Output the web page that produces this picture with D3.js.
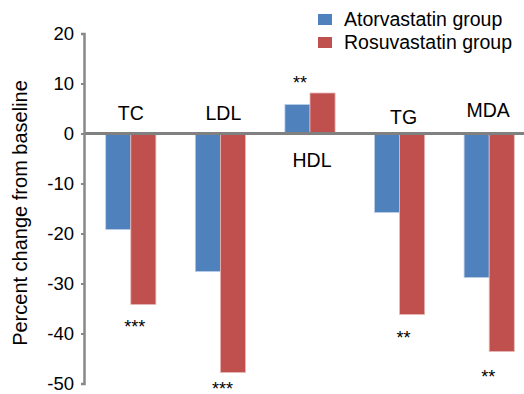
<!DOCTYPE html>
<html>
<head>
<meta charset="utf-8">
<script src="https://cdn.jsdelivr.net/npm/d3@7"></script>
<style>
	body { margin: 0; background: #fff; }
	text { font-family: 'Liberation Sans', Arial, sans-serif; fill: #000; }
</style>
</head>
<body>
<div id="chart"></div>
<script>
const categories = ['TC', 'LDL', 'HDL', 'TG', 'MDA']
const seriesNames = ['Atorvastatin group', 'Rosuvastatin group']
const atorvastatin = [-19.2, -27.6, 5.8, -15.8, -28.8]
const rosuvastatin = [-34.2, -47.8, 8.1, -36.2, -43.6]
const stars = ['***', '***', '**', '**', '**']
const yTicks = [20, 10, 0, -10, -20, -30, -40, -50]

const width = 524
const height = 394
const colors = ['#4F81BD', '#C0504D']
const fontSize = '19.5px'

const svg = d3
	.select('#chart')
	.append('svg')
	.attr('width', width)
	.attr('height', height)

const y = d3.scaleLinear().domain([-50, 20]).range([383.5, 33.5])

const x = d3
	.scaleBand()
	.domain(categories)
	.range([86, 534])
	.paddingInner(0.44)
	.paddingOuter(0.22)

const xSub = d3
	.scaleBand()
	.domain(seriesNames)
	.range([0, x.bandwidth()])

const rows = categories.map((c, i) => ({
	cat: c,
	values: [atorvastatin[i], rosuvastatin[i]],
	star: stars[i],
}))

// bars
const group = svg
	.selectAll('g.cat')
	.data(rows)
	.enter()
	.append('g')
	.attr('class', 'cat')
	.attr('transform', (d) => 'translate(' + x(d.cat) + ',0)')

group
	.selectAll('rect')
	.data((d) => d.values.map((v, j) => ({ v, name: seriesNames[j], j })))
	.enter()
	.append('rect')
	.attr('x', (d) => xSub(d.name))
	.attr('width', xSub.bandwidth())
	.attr('y', (d) => y(Math.max(0, d.v)))
	.attr('height', (d) => Math.abs(y(d.v) - y(0)))
	.attr('fill', (d) => colors[d.j])
	.attr('stroke', (d) => (d.j === 0 ? '#b9cde6' : '#e6b9b8'))
	.attr('stroke-width', 0.8)

// zero line
svg
	.append('line')
	.attr('x1', 84)
	.attr('x2', width)
	.attr('y1', y(0))
	.attr('y2', y(0))
	.attr('stroke', '#808080')
	.attr('stroke-width', 3)

// y axis, plain hyphen for negatives like the original
const yAxis = d3
	.axisLeft(y)
	.tickValues(yTicks)
	.tickSize(3)
	.tickPadding(7)
	.tickFormat((d) => String(d))

const axisG = svg
	.append('g')
	.attr('transform', 'translate(84,0)')
	.call(yAxis)

axisG.select('.domain').attr('stroke', '#888').attr('stroke-width', 2.5)
axisG.selectAll('.tick line').attr('stroke', '#888').attr('stroke-width', 2)
axisG
	.selectAll('.tick text')
	.style('font-family', "'Liberation Sans', Arial, sans-serif")
	.style('font-size', '18.5px')
	.attr('fill', '#000')

svg
	.append('text')
	.attr('transform', 'translate(27,213) rotate(-90)')
	.attr('text-anchor', 'middle')
	.style('font-size', '20px')
	.text('Percent change from baseline')

// category labels
const labelPos = { TC: 113, LDL: 113, HDL: 160, TG: 117, MDA: 110 }
const labelDx = { TC: 0, LDL: 3, HDL: 2, TG: 4, MDA: -1 }
group
	.append('text')
	.attr('x', (d) => x.bandwidth() / 2 + labelDx[d.cat])
	.attr('y', (d) => labelPos[d.cat])
	.attr('dy', '0.35em')
	.attr('text-anchor', 'middle')
	.style('font-size', fontSize)
	.text((d) => d.cat)

// significance stars
const starPos = { TC: 322, LDL: 384, HDL: 78, TG: 333, MDA: 372 }
const starDx = { TC: 4, LDL: 2, HDL: -10, TG: 4, MDA: -1 }
group
	.append('text')
	.attr('x', (d) => x.bandwidth() / 2 + starDx[d.cat])
	.attr('y', (d) => starPos[d.cat] + 10.5)
	.attr('text-anchor', 'middle')
	.style('font-size', '18px')
	.text((d) => d.star)

// legend
const legend = svg
	.selectAll('g.legend')
	.data(seriesNames)
	.enter()
	.append('g')
	.attr('class', 'legend')
	.attr('transform', (d, i) => 'translate(318,' + (14 + i * 23) + ')')

legend
	.append('rect')
	.attr('width', 14)
	.attr('height', 11)
	.attr('fill', (d, i) => colors[i])

legend
	.append('text')
	.attr('x', 26)
	.attr('y', 5.5)
	.attr('dy', '0.35em')
	.style('font-size', fontSize)
	.text((d) => d)
</script>
</body>
</html>
